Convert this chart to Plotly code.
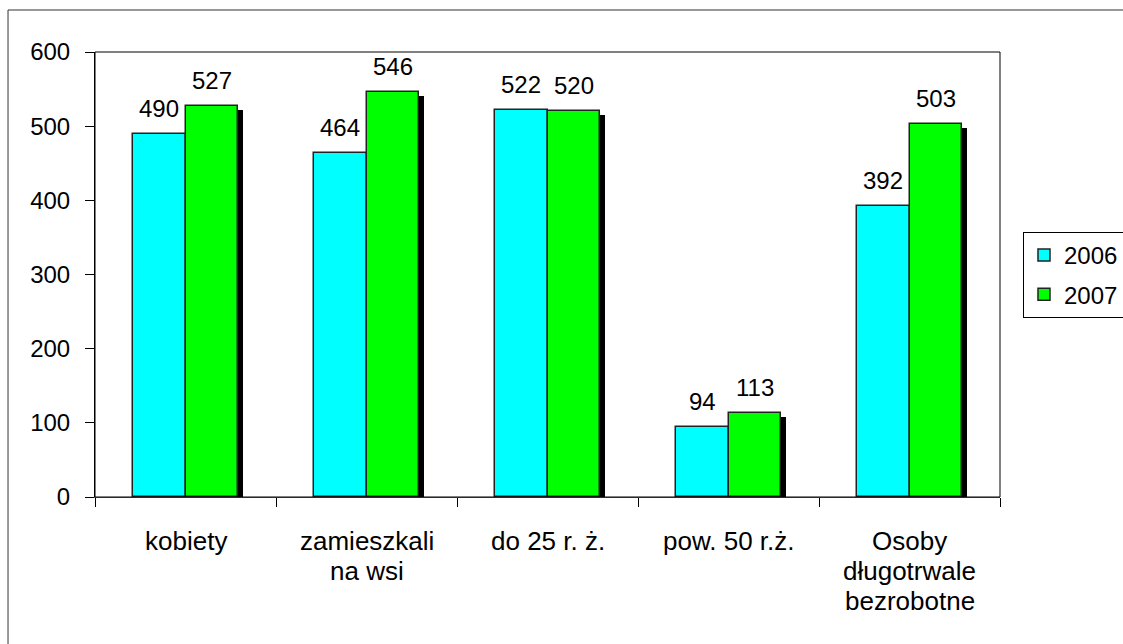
import plotly.graph_objects as go

categories = ["kobiety", "zamieszkali<br>na wsi", "do 25 r. ż.", "pow. 50 r.ż.", "Osoby<br>długotrwale<br>bezrobotne"]
values_2006 = [490, 464, 522, 94, 392]
values_2007 = [527, 546, 520, 113, 503]
series_names = ["2006", "2007"]
y_ticks = [0, 100, 200, 300, 400, 500, 600]

FONT = "Liberation Sans, Arial, sans-serif"
FS = 24
FS_X = 26
BW = 0.29          # bar width in category units
SDX = 0.028        # shadow x-offset (category units)
SDY = 5.4          # shadow y-offset (value units)

x = list(range(len(categories)))

fig = go.Figure()

# shadows
for vals, off in [(values_2006, -BW), (values_2007, 0.0)]:
    fig.add_trace(go.Bar(
        x=x, y=[v - SDY for v in vals], width=BW, offset=off + SDX,
        marker=dict(color="black", line=dict(width=0)),
        showlegend=False, hoverinfo="skip"))

# main bars
for name, vals, off, col in [(series_names[0], values_2006, -BW, "#00FFFF"),
                             (series_names[1], values_2007, 0.0, "#00FF00")]:
    fig.add_trace(go.Bar(
        x=x, y=vals, width=BW, offset=off, name=name, legendgroup=name,
        marker=dict(color=col, line=dict(color="#222222", width=1.5))))

annotations = []
# data labels
for vals, off in [(values_2006, -BW / 2), (values_2007, BW / 2)]:
    for xi, v in zip(x, vals):
        annotations.append(dict(x=xi + off, y=v, xref="x", yref="y", text=str(v),
                                showarrow=False, yanchor="bottom", yshift=10,
                                font=dict(family=FONT, size=FS, color="black")))
# category labels (one annotation per text line)
for xi, cat in zip(x, categories):
    for k, line in enumerate(cat.split("<br>")):
        annotations.append(dict(x=xi, y=0, xref="x", yref="paper", text=line,
                                showarrow=False, yanchor="middle", yshift=-(44 + 30 * k),
                                font=dict(family=FONT, size=FS_X, color="black")))

fig.update_layout(
    width=1123, height=644,
    margin=dict(l=95, r=123, t=52, b=147, autoexpand=False),
    paper_bgcolor="white", plot_bgcolor="white",
    barmode="overlay", bargap=0,
    font=dict(family=FONT, size=FS, color="black"),
    showlegend=True,
    legend=dict(x=1.0254, y=0.5955, xanchor="left", yanchor="top",
                bordercolor="black", borderwidth=1, bgcolor="white",
                font=dict(family=FONT, size=FS, color="black"),
                tracegroupgap=5, traceorder="grouped"),
    annotations=annotations,
    shapes=[
        dict(type="rect", xref="paper", yref="paper", x0=0, y0=0, x1=1, y1=1,
             line=dict(color="black", width=1), layer="above"),
        dict(type="rect", xref="paper", yref="paper", x0=-0.0961, y0=-0.45, x1=1.2, y1=1.0944,
             line=dict(color="#333333", width=1)),
    ],
)

fig.update_xaxes(
    range=[-0.5, len(categories) - 0.5],
    tickvals=x, showticklabels=False, ticks="", showgrid=False, zeroline=False,
    showline=True, linecolor="#555555", linewidth=1,
    minor=dict(tick0=-0.5, dtick=1, ticks="outside", ticklen=9, tickcolor="black", showgrid=False),
)
fig.update_yaxes(
    range=[0, 600], tickvals=y_ticks, ticks="outside", ticklen=9, tickcolor="black",
    showgrid=False, zeroline=False, showline=True, linecolor="black", linewidth=1,
    ticklabelstandoff=10,
    tickfont=dict(family=FONT, size=FS, color="black"),
)

fig.write_html("out.html", config={"displayModeBar": False},
               post_script="document.body.style.margin='0';")
